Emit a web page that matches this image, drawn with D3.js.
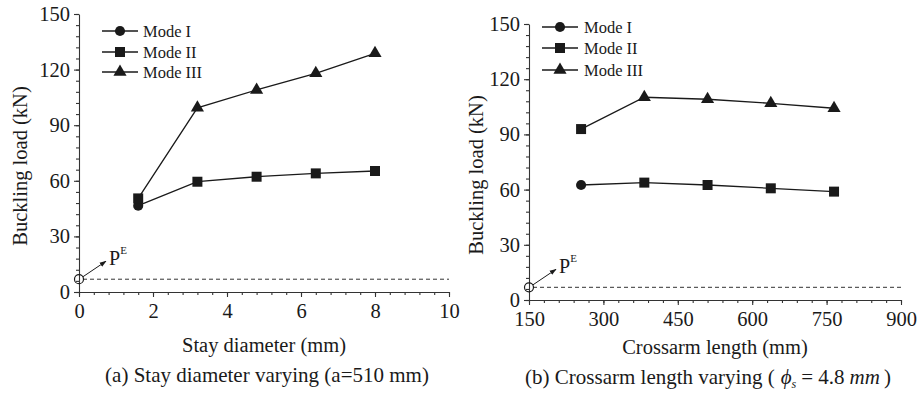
<!DOCTYPE html>
<html><head><meta charset="utf-8">
<script src="https://cdn.jsdelivr.net/npm/d3@7"></script>
<style>
body{margin:0;background:#fff}
svg{display:block}
svg text{font-family:"Liberation Serif","Tinos","Times New Roman","DejaVu Serif",serif !important;fill:#1a1a1a}
</style>
</head><body><svg id="c" width="917" height="393"></svg>
<script>
// ---- data ----
const stayDiameter = [1.6, 3.2, 4.8, 6.4, 8];
const lowerA = [46.6, 59.5, 62.2, 64.0, 65.3];
const upperA = [50.5, 99.4, 109.0, 118.0, 128.8];
const crossarmLength = [255, 382.5, 510, 637.5, 765];
const lowerB = [62.5, 63.8, 62.5, 60.7, 58.9];
const upperB = [92.9, 110.2, 109.1, 106.9, 104.2];
const lowerModes = ["I", "II", "II", "II", "II"];
const upperModes = ["II", "III", "III", "III", "III"];
const legendModes = ["I", "II", "III"];
const eulerLoad = 6.9;
const yTicks = [0, 30, 60, 90, 120, 150];
const xTicksA = [0, 2, 4, 6, 8, 10];
const xTicksB = [150, 300, 450, 600, 750, 900];

const FONT = '"Liberation Serif","Tinos","Times New Roman","DejaVu Serif",serif';
const svg = d3.select("#c").attr("font-family", FONT);
const ink = "#1a1a1a";

const symType = {I: d3.symbolCircle, II: d3.symbolSquare, III: d3.symbolTriangle};
const symSize = {I: 80, II: 100, III: 75};
function sym(m){ return d3.symbol().type(symType[m]).size(symSize[m])(); }

svg.append("defs").append("marker")
  .attr("id","arr").attr("viewBox","0 0 10 10").attr("refX",9).attr("refY",5)
  .attr("markerWidth",7).attr("markerHeight",7).attr("orient","auto")
  .append("path").attr("d","M0,1.5 L10,5 L0,8.5 Z").attr("fill",ink);

const panels = [
  {xs: stayDiameter, lower: lowerA, upper: upperA, xDom:[0,10], xRange:[79,449], yRange:[292,14],
   xTicks: xTicksA, xMinor: d3.range(0, 10.001, 0.4), xFmt: d3.format("d"),
   legend:{x0:102, x1:138, tx:143, ys:[31,52,72]},
   yTitle:{x:20, y:166}, xTitle:{x:264, y:345, t:"Stay diameter (mm)"},
   caption:{x:267, y:375}},
  {xs: crossarmLength, lower: lowerB, upper: upperB, xDom:[150,900], xRange:[529,901], yRange:[300,24],
   xTicks: xTicksB, xMinor: d3.range(150, 900.1, 30), xFmt: d3.format("d"),
   legend:{x0:542, x1:578, tx:584, ys:[27,48,70]},
   yTitle:{x:476, y:175}, xTitle:{x:715, y:347, t:"Crossarm length (mm)"},
   caption:{x:708, y:377}}
];

panels.forEach((p, i) => {
  const x = d3.scaleLinear().domain(p.xDom).range(p.xRange);
  const y = d3.scaleLinear().domain([0,150]).range(p.yRange);
  const g = svg.append("g");

  // minor ticks
  g.append("g").attr("transform",`translate(0,${p.yRange[0]})`)
    .call(d3.axisBottom(x).tickValues(p.xMinor).tickSize(3).tickFormat(""))
    .call(a => a.select(".domain").remove());
  g.append("g").attr("transform",`translate(${p.xRange[0]},0)`)
    .call(d3.axisLeft(y).tickValues(d3.range(0,150.1,6)).tickSize(3).tickFormat(""))
    .call(a => a.select(".domain").remove());

  // major axes
  const xa = g.append("g").attr("transform",`translate(0,${p.yRange[0]})`)
    .call(d3.axisBottom(x).tickValues(p.xTicks).tickSize(5).tickSizeOuter(0).tickPadding(6).tickFormat(p.xFmt));
  const ya = g.append("g").attr("transform",`translate(${p.xRange[0]},0)`)
    .call(d3.axisLeft(y).tickValues(yTicks).tickSize(5).tickSizeOuter(0).tickPadding(4));
  g.selectAll("g").attr("font-family", FONT);
  [xa, ya].forEach(a => {
    a.selectAll("text").style("font-size","20.5px").attr("fill",ink);
    a.selectAll("line,path").attr("stroke","#333").attr("stroke-width",1.1);
  });
  g.selectAll("line").attr("stroke","#333").attr("stroke-width",1.1);

  // Euler load
  const cx = x(p.xDom[0]), cy = y(eulerLoad);
  g.append("line").attr("x1", cx+4).attr("x2", p.xRange[1]).attr("y1", cy).attr("y2", cy)
    .attr("stroke","#333").attr("stroke-width",1).attr("stroke-dasharray","4,3");
  g.append("circle").attr("cx",cx).attr("cy",cy).attr("r",4.5)
    .attr("fill","none").attr("stroke",ink).attr("stroke-width",1.2);
  g.append("line").attr("x1",cx+4).attr("y1",cy-2.5).attr("x2",cx+27).attr("y2",cy-18)
    .attr("stroke",ink).attr("stroke-width",1).attr("marker-end","url(#arr)");
  const pe = g.append("text").attr("x",cx+30).attr("y",cy-14).style("font-size","20px");
  pe.append("tspan").text("P");
  pe.append("tspan").attr("dy",-11).style("font-size","11px").attr("fill",ink).text("E");

  // series lines
  const line = d3.line().x(d => x(d[0])).y(d => y(d[1]));
  [[p.lower, lowerModes],[p.upper, upperModes]].forEach(([vals, modes]) => {
    const pts = p.xs.map((v,k) => [v, vals[k], modes[k]]);
    g.append("path").attr("d", line(pts)).attr("fill","none").attr("stroke",ink).attr("stroke-width",1.3);
    g.selectAll(null).data(pts).enter().append("path")
      .attr("d", d => sym(d[2]))
      .attr("transform", d => `translate(${x(d[0])},${y(d[1])})`)
      .attr("fill", ink);
  });

  // legend
  legendModes.forEach((m, k) => {
    const ly = p.legend.ys[k];
    g.append("line").attr("x1",p.legend.x0).attr("x2",p.legend.x1).attr("y1",ly).attr("y2",ly)
      .attr("stroke",ink).attr("stroke-width",1.3);
    g.append("path").attr("d", sym(m)).attr("transform",`translate(${(p.legend.x0+p.legend.x1)/2},${ly})`).attr("fill",ink);
    g.append("text").attr("x",p.legend.tx).attr("y",ly).attr("dy","0.35em").style("font-size","16.5px").text("Mode " + m);
  });

  // titles
  g.append("text").attr("transform",`translate(${p.yTitle.x},${p.yTitle.y}) rotate(-90)`)
    .attr("text-anchor","middle").attr("dy","0.35em").style("font-size","20.5px").text("Buckling load (kN)");
  g.append("text").attr("x",p.xTitle.x).attr("y",p.xTitle.y).attr("dy","0.35em")
    .attr("text-anchor","middle").style("font-size","20.5px").text(p.xTitle.t);

  const cap = g.append("text").attr("x",p.caption.x).attr("y",p.caption.y).attr("dy","0.35em")
    .attr("text-anchor","middle").style("font-size","21px");
  if (i === 0) {
    cap.text("(a) Stay diameter varying (a=510 mm)");
  } else {
    cap.append("tspan").text("(b) Crossarm length varying (");
    cap.append("tspan").attr("dx",6).style("font-style","italic").text("\u03D5");
    cap.append("tspan").style("font-style","italic").style("font-size","12px").attr("dy",4).text("s");
    cap.append("tspan").attr("dy",-4).attr("dx",5).text("= 4.8");
    cap.append("tspan").attr("dx",5).style("font-style","italic").text("mm");
    cap.append("tspan").attr("dx",4).text(")");
  }
});
</script>
</body></html>
